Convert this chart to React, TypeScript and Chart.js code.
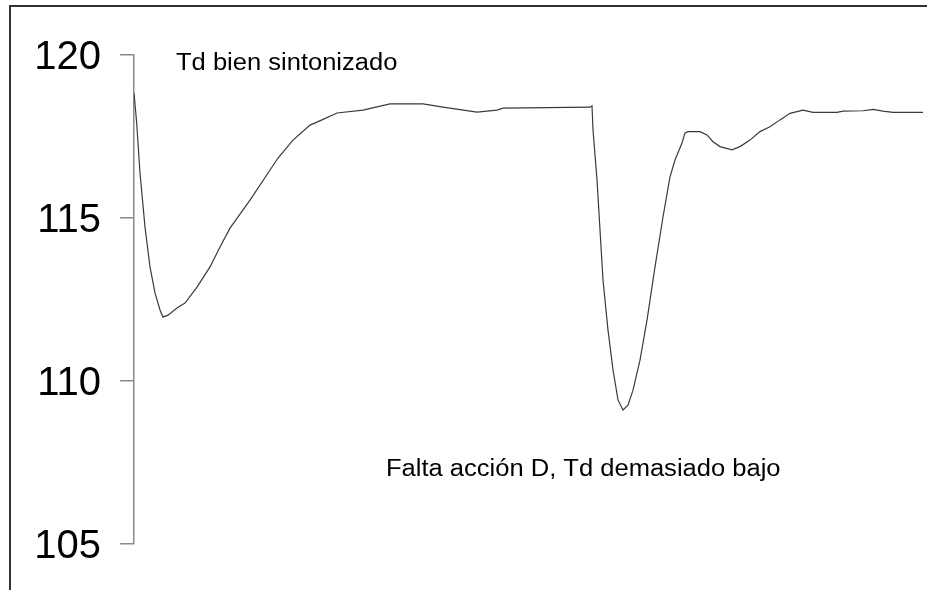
import React, { useEffect, useRef } from "react";
import { Chart, registerables } from "chart.js";

Chart.register(...registerables);

// time samples (s) and process value
const times: number[] = [
  0, 2.7, 6, 11, 16, 21, 26, 29, 34, 43, 51, 63, 76, 86, 96, 116, 144, 159, 176, 188,
  203, 229, 256, 273, 289, 309, 343, 363, 369, 456, 458, 459, 463, 466, 469, 474, 479,
  484, 489, 494, 499, 506, 513, 521, 529, 536, 541, 548, 551, 554, 566, 573, 579, 586,
  598, 606, 616, 626, 636, 646, 656, 669, 679, 703, 709, 729, 739, 749, 759, 789,
];
const values: number[] = [
  118.83, 117.91, 116.38, 114.72, 113.5, 112.7, 112.18, 111.96, 112.02, 112.24, 112.39,
  112.88, 113.5, 114.11, 114.69, 115.55, 116.84, 117.39, 117.85, 118.01, 118.22, 118.31,
  118.5, 118.5, 118.5, 118.4, 118.25, 118.31, 118.37, 118.4, 118.44, 117.7, 116.17,
  114.63, 113.1, 111.56, 110.34, 109.42, 109.11, 109.26, 109.72, 110.64, 111.87, 113.5,
  115.03, 116.26, 116.78, 117.3, 117.61, 117.65, 117.65, 117.55, 117.34, 117.19, 117.09,
  117.19, 117.39, 117.65, 117.8, 118.01, 118.21, 118.31, 118.24, 118.24, 118.28, 118.29,
  118.33, 118.28, 118.24, 118.24,
];
const yTicks: number[] = [105, 110, 115, 120];
const noteTop = "Td bien sintonizado";
const noteBottom = "Falta acción D, Td demasiado bajo";

const FONT = "'Liberation Sans', Arial, Helvetica, sans-serif";

const framePlugin = {
  id: "frameAndNotes",
  beforeDraw(chart: any) {
    const ctx = chart.ctx;
    ctx.save();
    ctx.fillStyle = "#ffffff";
    ctx.fillRect(0, 0, chart.width, chart.height);
    ctx.strokeStyle = "#333333";
    ctx.lineWidth = 2;
    ctx.beginPath();
    ctx.moveTo(10, chart.height);
    ctx.lineTo(10, 6);
    ctx.lineTo(chart.width, 6);
    ctx.stroke();
    ctx.restore();
  },
  afterDraw(chart: any) {
    const ctx = chart.ctx;
    const xs = chart.scales.x;
    const ys = chart.scales.y;
    const drawNote = (text: string, t: number, v: number) => {
      ctx.save();
      ctx.translate(xs.getPixelForValue(t), ys.getPixelForValue(v));
      ctx.scale(1.11, 1);
      ctx.font = `23px ${FONT}`;
      ctx.fillStyle = "#000000";
      ctx.textBaseline = "alphabetic";
      ctx.textAlign = "left";
      ctx.fillText(text, 0, 0);
      ctx.restore();
    };
    drawNote(noteTop, 42, 119.55);
    drawNote(noteBottom, 252, 107.09);
  },
};

export default function App() {
  const ref = useRef<HTMLCanvasElement | null>(null);
  useEffect(() => {
    if (!ref.current) return;
    const chart = new Chart(ref.current, {
      type: "line",
      data: {
        datasets: [
          {
            data: times.map((t, i) => ({ x: t, y: values[i] })),
            borderColor: "#3a3a3a",
            borderWidth: 1.2,
            pointRadius: 0,
            tension: 0,
            fill: false,
          },
        ],
      },
      options: {
        responsive: false,
        animation: false,
        events: [],
        layout: { padding: { left: 0, right: 2, top: 55, bottom: 46 } },
        plugins: { legend: { display: false }, tooltip: { enabled: false } },
        scales: {
          x: { type: "linear", min: 0, max: 791, display: false },
          y: {
            type: "linear",
            min: 105,
            max: 120,
            afterFit(scale: any) {
              scale.width = 134;
            },
            afterBuildTicks(scale: any) {
              scale.ticks = yTicks.map((v) => ({ value: v }));
            },
            border: { display: true, color: "#8a8a8a", width: 1.5 },
            grid: {
              drawOnChartArea: false,
              drawTicks: true,
              tickLength: 14,
              color: "#8a8a8a",
              lineWidth: 1.5,
            },
            ticks: {
              padding: 19,
              labelOffset: 3,
              color: "#000000",
              font: { family: FONT, size: 40 },
            },
          },
        },
      },
      plugins: [framePlugin],
    });
    return () => chart.destroy();
  }, []);
  return (
    <div style={{ position: "fixed", left: 0, top: 0, width: 927, height: 590, background: "#fff" }}>
      <canvas ref={ref} width={927} height={590} style={{ width: 927, height: 590, display: "block" }} />
    </div>
  );
}
